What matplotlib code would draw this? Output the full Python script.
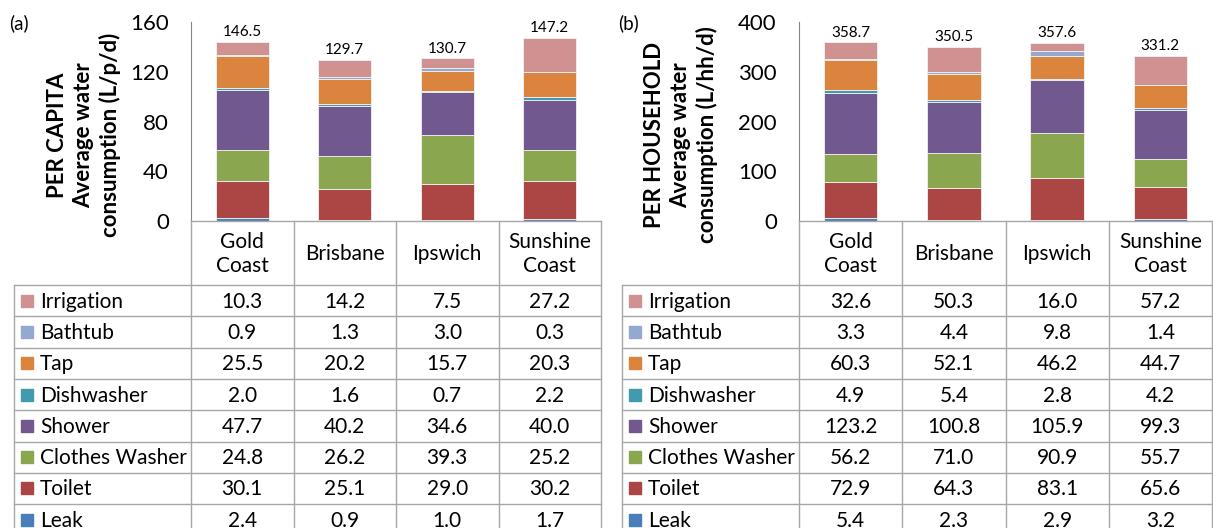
import matplotlib
matplotlib.use("Agg")
import matplotlib.pyplot as plt
from matplotlib.patches import Rectangle

W, H = 1213, 528

# End uses, listed from the bottom of each stack to the top
uses = ["Leak", "Toilet", "Clothes Washer", "Shower", "Dishwasher", "Tap", "Bathtub", "Irrigation"]
use_colors = ["#4A7EBB", "#AB4644", "#8AA64E", "#71588F", "#4299B0", "#DB843D", "#93A9D0", "#D09291"]
cities = ["Gold\nCoast", "Brisbane", "Ipswich", "Sunshine\nCoast"]

# Per capita consumption (L/p/d), one list per city, in the order of `uses`
pc_gold_coast = [2.4, 30.1, 24.8, 47.7, 2.0, 25.5, 0.9, 10.3]
pc_brisbane = [0.9, 25.1, 26.2, 40.2, 1.6, 20.2, 1.3, 14.2]
pc_ipswich = [1.0, 29.0, 39.3, 34.6, 0.7, 15.7, 3.0, 7.5]
pc_sunshine_coast = [1.7, 30.2, 25.2, 40.0, 2.2, 20.3, 0.3, 27.2]
pc_totals = [146.5, 129.7, 130.7, 147.2]

# Per household consumption (L/hh/d)
hh_gold_coast = [5.4, 72.9, 56.2, 123.2, 4.9, 60.3, 3.3, 32.6]
hh_brisbane = [2.3, 64.3, 71.0, 100.8, 5.4, 52.1, 4.4, 50.3]
hh_ipswich = [2.9, 83.1, 90.9, 105.9, 2.8, 46.2, 9.8, 16.0]
hh_sunshine_coast = [3.2, 65.6, 55.7, 99.3, 4.2, 44.7, 1.4, 57.2]
hh_totals = [358.7, 350.5, 357.6, 331.2]

pc_ticks = [0, 40, 80, 120, 160]
hh_ticks = [0, 100, 200, 300, 400]

FONT = "Lato"
GRID = "#A6A6A6"
TXT = 15
plt.rcParams["font.family"] = [FONT, "DejaVu Sans"]

fig = plt.figure(figsize=(W / 100, H / 100), dpi=100)
fig.patch.set_facecolor("white")

# Overlay in pixel coordinates for the data tables and captions
ov = fig.add_axes([0, 0, 1, 1], zorder=5)
ov.set_xlim(0, W)
ov.set_ylim(H, 0)
ov.axis("off")
ov.patch.set_alpha(0)


def draw_panel(tag, tag_x, ylabel, ylabel_x, table_left, data_left, data_right,
               city_values, totals, ymax, ticks):
    axis_top, axis_bottom = 22, 221
    ax = fig.add_axes([data_left / W, (H - axis_bottom) / H,
                       (data_right - data_left) / W, (axis_bottom - axis_top) / H])
    ax.set_xlim(-0.5, 3.5)
    ax.set_ylim(0, ymax)
    for s in ["top", "right", "bottom"]:
        ax.spines[s].set_visible(False)
    ax.spines["left"].set_color("#868686")
    ax.set_xticks([])
    ax.set_yticks(ticks)
    ax.set_yticklabels([str(t) for t in ticks], fontsize=16)
    ax.tick_params(axis="y", length=0, pad=16)
    ax.patch.set_alpha(0)

    x = range(len(city_values))
    bottoms = [0.0] * len(city_values)
    for k, (use, col) in enumerate(zip(uses, use_colors)):
        vals = [cv[k] for cv in city_values]
        ax.bar(x, vals, width=0.52, bottom=bottoms, color=col,
               edgecolor="#F2F2F2", linewidth=0.6)
        bottoms = [b + v for b, v in zip(bottoms, vals)]
    for xi, top, tot in zip(x, bottoms, totals):
        ax.annotate(f"{tot:.1f}", (xi, top), xytext=(0, 2), textcoords="offset points",
                    ha="center", va="bottom", fontsize=11)

    ov.text(tag_x, 23, tag, fontsize=13.5, ha="left", va="center")
    ov.text(ylabel_x, 135, ylabel, fontsize=16, fontweight="bold", rotation=90,
            ha="center", va="center", multialignment="center", linespacing=1.28)

    # Data table
    header_bottom = 285
    row_h = 31.3
    n_rows = len(uses)
    table_bottom = header_bottom + n_rows * row_h
    col_w = (data_right - data_left) / len(city_values)
    lw = 1.0
    ov.plot([data_left, data_right], [axis_bottom, axis_bottom], color=GRID, lw=lw)
    for i in range(len(city_values) + 1):
        xx = data_left + i * col_w
        ov.plot([xx, xx], [axis_bottom, table_bottom], color=GRID, lw=lw)
    ov.plot([table_left, table_left], [header_bottom, table_bottom], color=GRID, lw=lw)
    for r in range(n_rows + 1):
        yy = header_bottom + r * row_h
        ov.plot([table_left, data_right], [yy, yy], color=GRID, lw=lw)

    for i, name in enumerate(cities):
        ov.text(data_left + (i + 0.5) * col_w, (axis_bottom + header_bottom) / 2 + 1, name,
                fontsize=TXT, ha="center", va="center", linespacing=1.3)

    for r in range(n_rows):
        k = n_rows - 1 - r  # table lists the top of the stack first
        yc = header_bottom + (r + 0.5) * row_h
        ov.add_patch(Rectangle((table_left + 7, yc - 6), 12, 12, color=use_colors[k]))
        ov.text(table_left + 26, yc + 1, uses[k], fontsize=TXT, ha="left", va="center")
        for i, cv in enumerate(city_values):
            ov.text(data_left + (i + 0.5) * col_w, yc + 1, f"{cv[k]:.1f}",
                    fontsize=TXT, ha="center", va="center")


draw_panel("(a)", 9, "PER CAPITA\nAverage water\nconsumption (L/p/d)", 84,
           14, 191, 601,
           [pc_gold_coast, pc_brisbane, pc_ipswich, pc_sunshine_coast],
           pc_totals, 160, pc_ticks)
draw_panel("(b)", 618, "PER HOUSEHOLD\nAverage water\nconsumption (L/hh/d)", 681,
           622, 799, 1212,
           [hh_gold_coast, hh_brisbane, hh_ipswich, hh_sunshine_coast],
           hh_totals, 400, hh_ticks)

fig.savefig("out.png", dpi=100, facecolor="white")
